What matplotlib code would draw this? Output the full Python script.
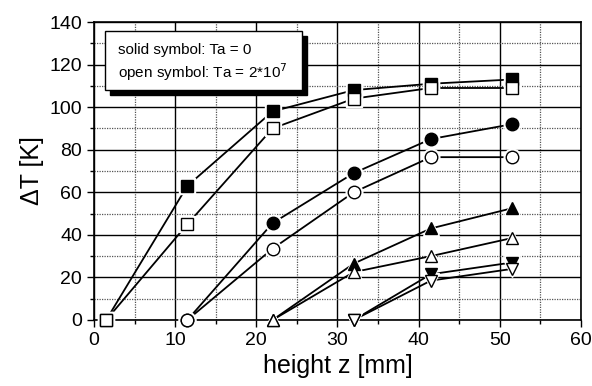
import matplotlib
matplotlib.use("Agg")
import matplotlib.pyplot as plt
from matplotlib.ticker import MultipleLocator
from matplotlib.patches import Rectangle

plt.rcParams["font.family"] = ["Liberation Sans", "DejaVu Sans"]

z_sq = [1.5, 11.5, 22, 32, 41.5, 51.5]
sq_solid = [0, 63, 98, 108, 111, 113]
sq_open = [0, 45, 90, 104, 109, 109]

z_ci = [11.5, 22, 32, 41.5, 51.5]
ci_solid = [0, 45.5, 69, 85, 92]
ci_open = [0, 33.5, 60, 76.5, 76.5]

z_tu = [22, 32, 41.5, 51.5]
tu_solid = [0, 26.5, 43, 52.5]
tu_open = [0, 22.5, 30, 38.5]

z_td = [32, 41.5, 51.5]
td_solid = [0, 21.5, 27]
td_open = [0, 18.5, 24]

series = [
    (z_sq, sq_solid, "s", True),
    (z_sq, sq_open, "s", False),
    (z_ci, ci_solid, "o", True),
    (z_ci, ci_open, "o", False),
    (z_tu, tu_solid, "^", True),
    (z_tu, tu_open, "^", False),
    (z_td, td_solid, "v", True),
    (z_td, td_open, "v", False),
]

fig = plt.figure(figsize=(5.92, 3.86), dpi=100)
ax = fig.add_axes([0.1588, 0.171, 0.8226, 0.772])

ax.set_xlim(0, 60)
ax.set_ylim(0, 140)
ax.xaxis.set_major_locator(MultipleLocator(10))
ax.xaxis.set_minor_locator(MultipleLocator(5))
ax.yaxis.set_major_locator(MultipleLocator(20))
ax.yaxis.set_minor_locator(MultipleLocator(10))
ax.grid(which="major", color="black", lw=1.0, ls="-")
ax.grid(which="minor", color="#555555", lw=0.9, ls=(0, (1, 1)))
ax.set_axisbelow(True)
ax.tick_params(which="major", direction="out", length=5, width=1, labelsize=14)
ax.tick_params(which="minor", direction="out", length=3, width=1)
for s in ax.spines.values():
    s.set_linewidth(1.2)

for x, y, m, solid in series:
    ax.plot(x, y, color="black", lw=1.3, zorder=3)
    ax.plot(x, y, ls="none", marker=m, ms=12, mfc="white", mec="white", zorder=4, clip_on=False)
    ax.plot(x, y, ls="none", marker=m, ms=9, mfc="black" if solid else "white",
            mec="black", mew=1.0, zorder=5, clip_on=False)

ax.set_xlabel("height z [mm]", fontsize=18, labelpad=4)
ax.set_ylabel("ΔT [K]", fontsize=18, labelpad=4)

# text box with drop shadow
ax.add_patch(Rectangle((1.96, 105.7), 24.3, 27.7, transform=ax.transData,
                       facecolor="black", edgecolor="black", zorder=6))
ax.add_patch(Rectangle((1.36, 108), 24.3, 27.7, transform=ax.transData,
                       facecolor="white", edgecolor="black", lw=1.0, zorder=7))
ax.text(2.9, 127, "solid symbol: Ta = 0", fontsize=11, va="center", zorder=8)
ax.text(2.9, 116.5, "open symbol: Ta = 2*10$^{7}$", fontsize=11, va="center", zorder=8)

fig.savefig("out.png", dpi=100)
